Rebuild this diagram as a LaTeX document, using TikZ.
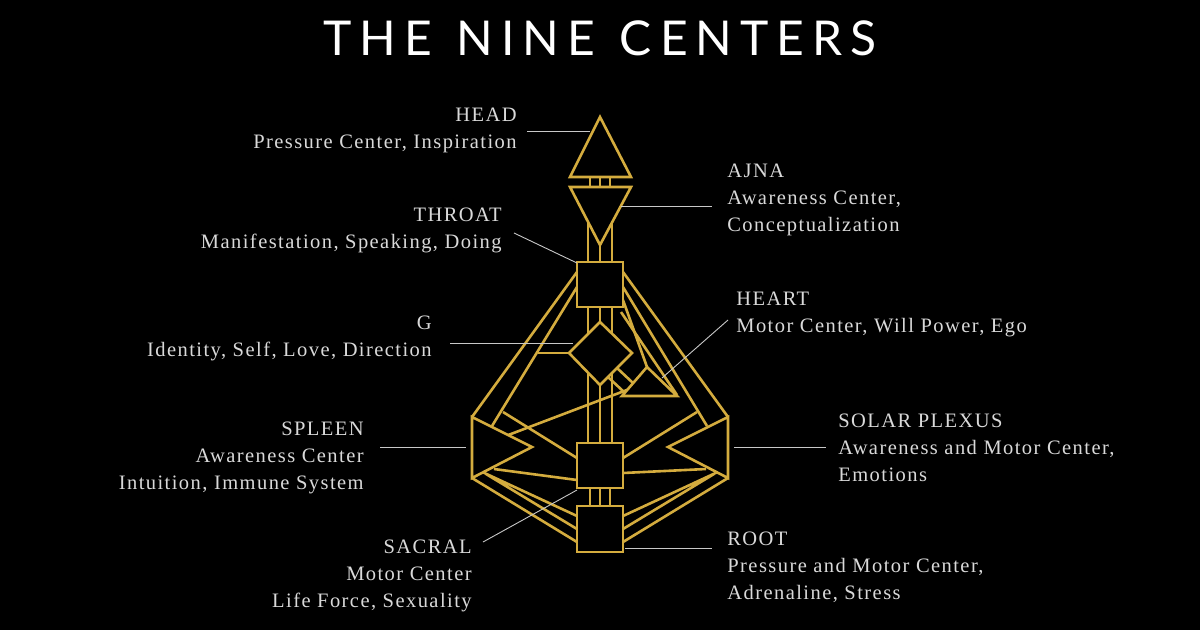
\documentclass[tikz,border=0pt]{standalone}
\usepackage{fontspec}
\setmainfont{Liberation Serif}[LetterSpace=7]
\newfontfamily\titlefont{Lato}
\definecolor{gold}{RGB}{212,172,62}
\definecolor{leadgray}{RGB}{200,200,200}
\tikzset{every picture/.style={line width=0.75pt}}
\tikzset{
  center/.style={draw=gold, line width=2.6pt, line join=miter, fill=black},
  channel/.style={draw=gold, line width=2.6pt},
  leader/.style={draw=leadgray, line width=0.9pt},
  lbl/.style={text=white!85!black, inner sep=0pt, font=\fontsize{20.5}{27}\selectfont},
}
\begin{document}
\begin{tikzpicture}[x=1pt,y=1pt,yscale=-1,xscale=1]
    \fill[black] (0,0) rectangle (1200,630);
    \useasboundingbox (0,0) rectangle (1200,630);

    %Channels: head - ajna - throat
    \draw[channel] (590,177) -- (590,187) (600,177) -- (600,187) (610,177) -- (610,187);
    \draw[channel] (588,210) -- (588,262) (600,245) -- (600,262) (612,210) -- (612,262);
    %Channels: throat - g
    \draw[channel] (588,307) -- (588,335) (600,307) -- (600,322) (612,307) -- (612,335);
    %Channels: g - sacral - root
    \draw[channel] (588,372) -- (588,443) (600,385) -- (600,443) (612,372) -- (612,443);
    \draw[channel] (590,488) -- (590,506) (600,488) -- (600,506) (610,488) -- (610,506);
    %Channels: throat - spleen
    \draw[channel] (577,272) -- (472,417);
    \draw[channel] (577,287) -- (492,426);
    \draw[channel] (538,353) -- (569,353);
    %Channels: throat - solar plexus / heart
    \draw[channel] (623,272) -- (728,417);
    \draw[channel] (623,287) -- (707,426);
    \draw[channel] (623,300) -- (647,367);
    \draw[channel] (621,312) -- (677,395);
    %Channels: g - heart
    \draw[channel] (617,368) -- (633,383) (608,377) -- (624,392);
    %Channels: spleen - heart
    \draw[channel] (503,437) -- (640,385);
    %Channels: spleen - sacral, solar plexus - sacral
    \draw[channel] (503,412) -- (577,458);
    \draw[channel] (494,469) -- (577,480);
    \draw[channel] (697,412) -- (623,458);
    \draw[channel] (706,469) -- (623,473);
    %Channels: spleen - root, solar plexus - root
    \draw[channel] (478,470) -- (577,516) (486,474) -- (577,529) (472,478) -- (577,542);
    \draw[channel] (722,470) -- (623,516) (714,474) -- (623,529) (728,478) -- (623,542);

    %Shape: Head
    \draw[center] (600,117) -- (631,177) -- (570,177) -- cycle;
    %Shape: Ajna
    \draw[center] (570,187) -- (631,187) -- (600,245) -- cycle;
    %Shape: Throat
    \draw[center] (577,262) rectangle (623,307);
    %Shape: G
    \draw[center] (600,322) -- (632,353) -- (600,385) -- (569,353) -- cycle;
    %Shape: Heart
    \draw[center] (647,367) -- (677,396) -- (622,396) -- cycle;
    %Shape: Spleen
    \draw[center] (472,417) -- (532,447) -- (472,478) -- cycle;
    %Shape: Solar plexus
    \draw[center] (728,417) -- (668,447) -- (728,478) -- cycle;
    %Shape: Sacral
    \draw[center] (577,443) rectangle (623,488);
    %Shape: Root
    \draw[center] (577,506) rectangle (623,552);

    %Leader lines
    \draw[leader] (527,131) -- (590,131);
    \draw[leader] (621,206) -- (712,206);
    \draw[leader] (514,233) -- (577,263);
    \draw[leader] (450,343) -- (573,343);
    \draw[leader] (728,320) -- (662,378);
    \draw[leader] (380,447) -- (466,447);
    \draw[leader] (734,447) -- (826,447);
    \draw[leader] (483,542) -- (577,490);
    \draw[leader] (625,548) -- (712,548);

    % Text Node
    \node (title) at (600,38) {\titlefont\fontsize{48}{50}\selectfont\color{white}T\,H\,E\ \ N\,I\,N\,E\ \ C\,E\,N\,T\,E\,R\,S};
    % Text Node
    \node[lbl, anchor=north east, align=right] (head) at (517,108) {HEAD\\Pressure Center, Inspiration};
    % Text Node
    \node[lbl, anchor=north west, align=left] (ajna) at (727,164) {AJNA\\Awareness Center,\\Conceptualization};
    % Text Node
    \node[lbl, anchor=north east, align=right] (throat) at (502,208) {THROAT\\Manifestation, Speaking, Doing};
    % Text Node
    \node[lbl, anchor=north east, align=right] (g) at (432,316) {G\\Identity, Self, Love, Direction};
    % Text Node
    \node[lbl, anchor=north west, align=left] (heart) at (736,292) {HEART\\Motor Center, Will Power, Ego};
    % Text Node
    \node[lbl, anchor=north east, align=right] (spleen) at (364,422) {SPLEEN\\Awareness Center\\Intuition, Immune System};
    % Text Node
    \node[lbl, anchor=north west, align=left] (solar) at (838,414) {SOLAR PLEXUS\\Awareness and Motor Center,\\Emotions};
    % Text Node
    \node[lbl, anchor=north east, align=right] (sacral) at (472,540) {SACRAL\\Motor Center\\Life Force, Sexuality};
    % Text Node
    \node[lbl, anchor=north west, align=left] (root) at (727,532) {ROOT\\Pressure and Motor Center,\\Adrenaline, Stress};
\end{tikzpicture}
\end{document}
